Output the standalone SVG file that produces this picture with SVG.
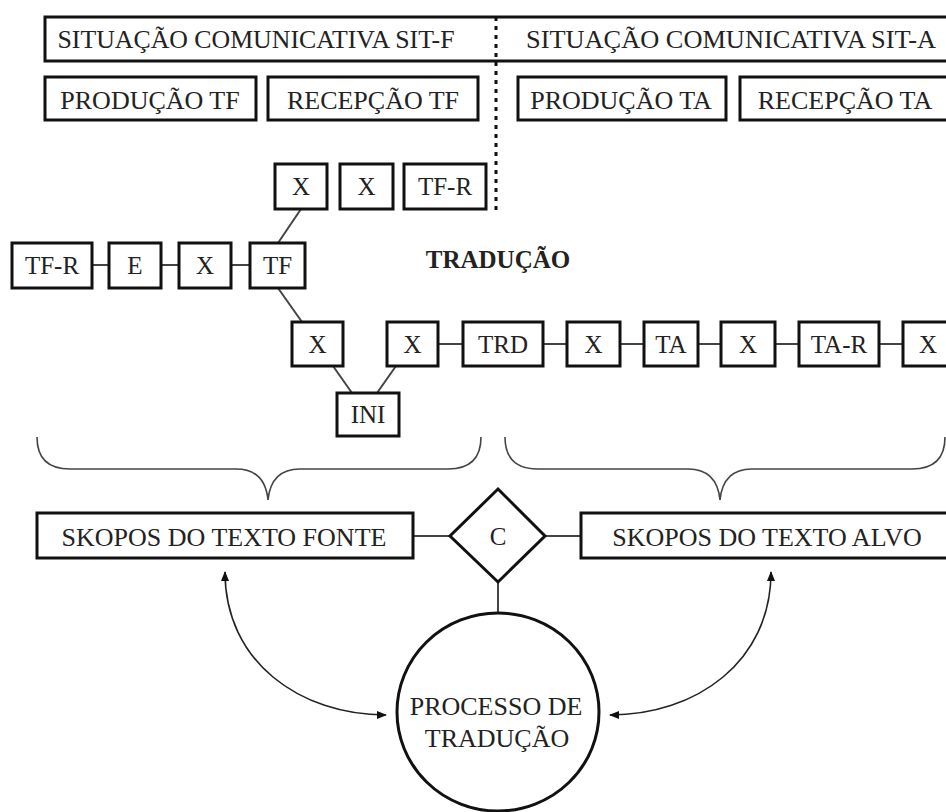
<svg xmlns="http://www.w3.org/2000/svg" width="946" height="812" viewBox="0 0 946 812">
<style>
  .box { fill: #fff; stroke: #111; stroke-width: 3; }
  .t { font-family: "Liberation Serif", "Times New Roman", serif; font-size: 25px; fill: #222; text-anchor: middle; }
  .t26 { font-size: 26px; }
  .bold { font-weight: bold; }
  .con { stroke: #444; stroke-width: 2; fill: none; }
  .brace { stroke: #444; stroke-width: 1.6; fill: none; }
  .arc { stroke: #222; stroke-width: 1.6; fill: none; marker-start: url(#ah); marker-end: url(#ah); }
</style>
<defs>
  <marker id="ah" viewBox="0 0 10 8" refX="9" refY="4" markerWidth="10" markerHeight="8" markerUnits="userSpaceOnUse" orient="auto-start-reverse">
    <path d="M0,0 L10,4 L0,8 Z" fill="#111"/>
  </marker>
</defs>
<rect width="946" height="812" fill="#fff"/>

<g id="connectors">
  <line class="con" x1="92" y1="265" x2="109" y2="265"/>
  <line class="con" x1="161" y1="265" x2="179" y2="265"/>
  <line class="con" x1="231" y1="265" x2="250" y2="265"/>
  <line class="con" x1="301" y1="209" x2="278" y2="243"/>
  <line class="con" x1="278" y1="288" x2="302" y2="322"/>
  <line class="con" x1="333" y1="366" x2="352" y2="393"/>
  <line class="con" x1="396" y1="366" x2="377" y2="393"/>
  <line class="con" x1="438" y1="344" x2="463" y2="344"/>
  <line class="con" x1="543" y1="344" x2="567" y2="344"/>
  <line class="con" x1="620" y1="344" x2="644" y2="344"/>
  <line class="con" x1="698" y1="344" x2="721" y2="344"/>
  <line class="con" x1="775" y1="344" x2="799" y2="344"/>
  <line class="con" x1="879" y1="344" x2="903" y2="344"/>
  <line class="con" x1="413" y1="536" x2="450" y2="536"/>
  <line class="con" x1="545" y1="536" x2="581" y2="536"/>
  <line class="con" x1="498" y1="582" x2="498" y2="613"/>
  <path class="arc" d="M225,572 C225,662 300,715 386,715"/>
  <path class="arc" d="M771,572 C771,662 696,715 610,715"/>
  <path class="brace" d="M37,437 C37,458 48,469 70,469 L236,469 C256,469 266,480 268,500 C270,480 280,469 300,469 L448,469 C470,469 481,458 481,437"/>
  <path class="brace" d="M505,437 C505,458 516,469 538,469 L688,469 C708,469 718,480 720,500 C722,480 732,469 752,469 L912,469 C934,469 945,458 945,437"/>
  <line x1="496" y1="17" x2="496" y2="215" stroke="#111" stroke-width="3" stroke-dasharray="4,5"/>
</g>

<g id="sit-f">
  <rect class="box" x="45" y="17" width="920" height="44"/>
  <text class="t" x="256" y="48" textLength="397" lengthAdjust="spacingAndGlyphs">SITUAÇÃO COMUNICATIVA SIT-F</text>
</g>
<line x1="496" y1="17" x2="496" y2="61" stroke="#111" stroke-width="3" stroke-dasharray="4,5"/>
<g id="sit-a">
  <text class="t" x="731" y="48" textLength="410" lengthAdjust="spacingAndGlyphs">SITUAÇÃO COMUNICATIVA SIT-A</text>
</g>

<g id="producao-tf"><rect class="box" x="45" y="77" width="211" height="43"/><text class="t t26" x="150" y="109">PRODUÇÃO TF</text></g>
<g id="recepcao-tf"><rect class="box" x="268" y="77" width="210" height="43"/><text class="t t26" x="373" y="109">RECEPÇÃO TF</text></g>
<g id="producao-ta"><rect class="box" x="518" y="77" width="208" height="43"/><text class="t t26" x="621" y="109">PRODUÇÃO TA</text></g>
<g id="recepcao-ta"><rect class="box" x="740" y="77" width="220" height="43"/><text class="t t26" x="845" y="109">RECEPÇÃO TA</text></g>

<g id="x-top1"><rect class="box" x="275" y="164" width="52" height="45"/><text class="t" x="301" y="195">X</text></g>
<g id="x-top2"><rect class="box" x="340" y="164" width="53" height="45"/><text class="t" x="366.5" y="195">X</text></g>
<g id="tfr-top"><rect class="box" x="404" y="164" width="82" height="45"/><text class="t" x="445" y="195">TF-R</text></g>

<g id="tfr-left"><rect class="box" x="12" y="243" width="80" height="45"/><text class="t" x="52" y="274">TF-R</text></g>
<g id="e"><rect class="box" x="109" y="243" width="52" height="45"/><text class="t" x="135" y="274">E</text></g>
<g id="x-left"><rect class="box" x="179" y="243" width="52" height="45"/><text class="t" x="205" y="274">X</text></g>
<g id="tf"><rect class="box" x="250" y="243" width="55" height="45"/><text class="t" x="277.5" y="274">TF</text></g>

<g id="traducao"><text class="t bold" x="498" y="268">TRADUÇÃO</text></g>

<g id="x-m1"><rect class="box" x="292" y="322" width="51" height="44"/><text class="t" x="317.5" y="353">X</text></g>
<g id="x-m2"><rect class="box" x="387" y="322" width="51" height="44"/><text class="t" x="412.5" y="353">X</text></g>
<g id="ini"><rect class="box" x="337" y="393" width="62" height="43"/><text class="t" x="368" y="423">INI</text></g>
<g id="trd"><rect class="box" x="463" y="322" width="80" height="44"/><text class="t" x="503" y="353">TRD</text></g>
<g id="x-m3"><rect class="box" x="567" y="322" width="53" height="44"/><text class="t" x="593.5" y="353">X</text></g>
<g id="ta"><rect class="box" x="644" y="322" width="54" height="44"/><text class="t" x="671" y="353">TA</text></g>
<g id="x-m4"><rect class="box" x="721" y="322" width="54" height="44"/><text class="t" x="748" y="353">X</text></g>
<g id="ta-r"><rect class="box" x="799" y="322" width="80" height="44"/><text class="t" x="839" y="353">TA-R</text></g>
<g id="x-m5"><rect class="box" x="903" y="322" width="52" height="44"/><text class="t" x="928" y="353">X</text></g>

<g id="skopos-fonte"><rect class="box" x="37" y="513" width="376" height="45"/><text class="t t26" x="224" y="546">SKOPOS DO TEXTO FONTE</text></g>
<g id="c"><path class="box" d="M498,489 L545,536 L498,582 L450,536 Z"/><text class="t" x="498" y="545">C</text></g>
<g id="skopos-alvo"><rect class="box" x="581" y="513" width="380" height="45"/><text class="t t26" x="767" y="546">SKOPOS DO TEXTO ALVO</text></g>

<g id="processo"><ellipse class="box" cx="498" cy="712" rx="101" ry="99"/><text class="t t26" x="496" y="715">PROCESSO DE</text><text class="t t26" x="497" y="747">TRADUÇÃO</text></g>
</svg>
